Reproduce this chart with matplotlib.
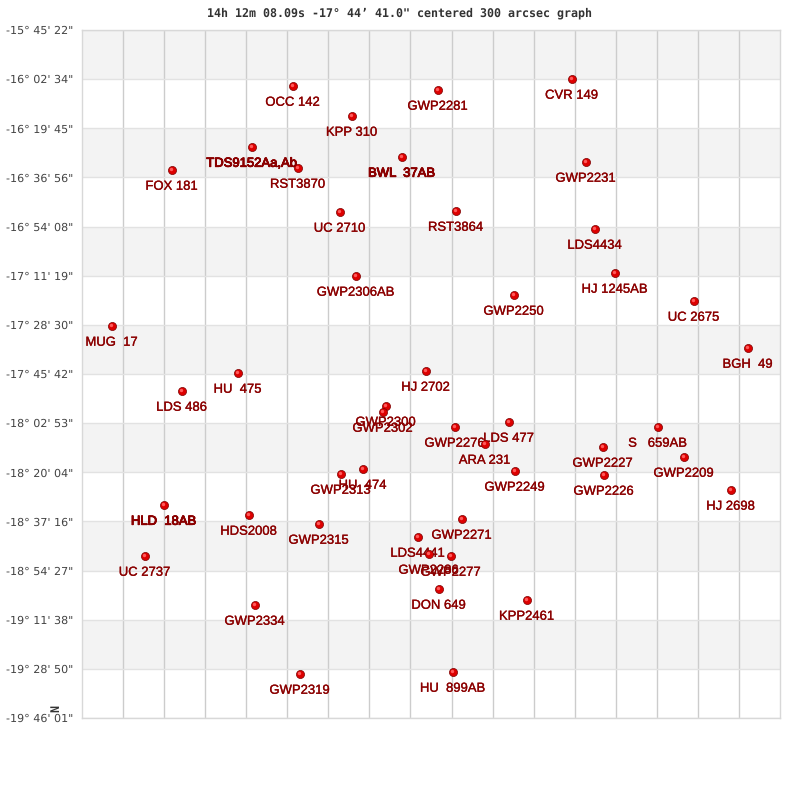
import numpy as np
import matplotlib
matplotlib.use("Agg")
import matplotlib.pyplot as plt
import matplotlib.patheffects as pe

plt.rcParams["text.hinting"] = "no_hinting"

# star positions (x across the plot, y down from the top)
names = ["OCC 142", "GWP2281", "CVR 149", "KPP 310", "TDS9152Aa,Ab", "BWL  37AB", "RST3870", "FOX 181",
         "GWP2231", "UC 2710", "RST3864", "LDS4434", "GWP2306AB", "HJ 1245AB", "GWP2250", "UC 2675",
         "MUG  17", "BGH  49", "HU  475", "HJ 2702", "LDS 486", "GWP2300", "GWP2302", "LDS 477",
         "GWP2276", "ARA 231", "S   659AB", "GWP2227", "GWP2209", "HU  474", "GWP2313", "GWP2249",
         "GWP2226", "HJ 2698", "HLD  18AB", "HDS2008", "GWP2271", "GWP2315", "LDS4441", "GWP2277",
         "GWP2286", "UC 2737", "DON 649", "KPP2461", "GWP2334", "HU  899AB", "GWP2319"]
xs = [211, 356, 490, 270, 170, 320, 216, 90,
      504, 258, 374, 513, 274, 533, 432, 612,
      30, 666, 156, 344, 100, 304, 301, 427,
      373, 403, 576, 521, 602, 281, 259, 433,
      522, 649, 82, 167, 380, 237, 336, 369,
      347, 63, 357, 445, 173, 371, 218]
ys = [56, 60, 49, 86, 117, 127, 138, 140,
      132, 182, 181, 199, 246, 243, 265, 271,
      296, 318, 343, 341, 361, 376, 382, 392,
      397, 414, 397, 417, 427, 439, 444, 441,
      445, 460, 475, 485, 489, 494, 507, 526,
      524, 526, 559, 570, 575, 642, 644]
# these labels look drawn twice in the original
heavy = ["TDS9152Aa,Ab", "BWL  37AB", "HLD  18AB"]

dec_labels = ['-15° 45\' 22"', '-16° 02\' 34"', '-16° 19\' 45"', '-16° 36\' 56"', '-16° 54\' 08"',
              '-17° 11\' 19"', '-17° 28\' 30"', '-17° 45\' 42"', '-18° 02\' 53"', '-18° 20\' 04"',
              '-18° 37\' 16"', '-18° 54\' 27"', '-19° 11\' 38"', '-19° 28\' 50"', '-19° 46\' 01"']

fig = plt.figure(figsize=(8, 8), dpi=100)
ax = fig.add_axes([82 / 800, 1 - 718 / 800, 698 / 800, 688 / 800])
ax.set_xlim(0, 698)
ax.set_ylim(688, 0)

yt = np.linspace(0, 688, len(dec_labels))
xt = np.linspace(0, 698, 18)[1:-1]

# alternating bands
for i in range(0, len(yt) - 1, 2):
    ax.axhspan(yt[i], yt[i + 1], color="#f3f3f3", lw=0, zorder=0)
for x in xt:
    ax.axvline(x, color="#cccccc", lw=1, zorder=1)
for y in yt:
    ax.axhline(y, color="#e2e2e2", lw=1, zorder=1)

ax.set_xticks([])
ax.set_yticks(yt)
ax.set_yticklabels(dec_labels, fontsize=8, color="#444444", family="DejaVu Sans")
ax.tick_params(axis="y", length=0, pad=6)
for s in ax.spines.values():
    s.set_color("#d8d8d8")
    s.set_linewidth(1)

# labels sit under the stars, stars are drawn on top
for n, x, y in zip(names, xs, ys):
    reps = 2 if n in heavy else 1
    stroke = 0.5 if n in heavy else 0.22
    for r in range(reps):
        ax.annotate(n, (x, y), xytext=(-0.4, -11.8), textcoords="offset points", ha="center", va="center",
                    fontsize=9.4, color="#8b0000", family="Liberation Sans",
                    path_effects=[pe.withStroke(linewidth=stroke, foreground="#8b0000")],
                    zorder=3, annotation_clip=False)

ax.scatter(xs, ys, s=34, color="#dd0000", edgecolors="#7a0000", linewidths=0.5, zorder=4)
ax.scatter(np.array(xs) - 0.8, np.array(ys) - 1, s=6, color="#ff5a5a", linewidths=0, zorder=5)

fig.text(399.5 / 800, 1 - 13 / 800, "14h 12m 08.09s -17° 44’ 41.0\" centered 300 arcsec graph", ha="center",
         va="center", fontsize=8.4, family="DejaVu Sans Mono", color="#333333", fontweight="bold")
fig.text(56 / 800, 1 - 708 / 800, "N", rotation=90, ha="center", va="center", fontsize=8.5,
         family="DejaVu Sans Mono", color="#333333", fontweight="bold")

fig.savefig("out.png", dpi=100)
